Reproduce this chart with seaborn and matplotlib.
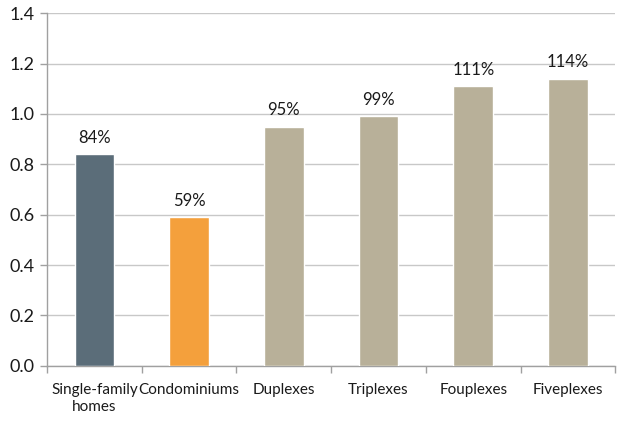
import matplotlib
matplotlib.use("Agg")
import matplotlib.pyplot as plt
import seaborn as sns
import pandas as pd
import numpy as np

categories = ["Single-family\nhomes", "Condominiums", "Duplexes", "Triplexes", "Fouplexes", "Fiveplexes"]
ratios = [0.84, 0.59, 0.95, 0.99, 1.11, 1.14]
labels = ["84%", "59%", "95%", "99%", "111%", "114%"]
colors = ["#5B6D79", "#F4A03C", "#B8B099", "#B8B099", "#B8B099", "#B8B099"]
yticks = [0.0, 0.2, 0.4, 0.6, 0.8, 1.0, 1.2, 1.4]

sns.set_style("white")
plt.rcParams["font.family"] = ["Lato", "DejaVu Sans"]

df = pd.DataFrame({"category": categories, "ratio": ratios})

fig = plt.figure(figsize=(6.19, 4.23), dpi=100)
ax = fig.add_axes([0.076, 0.135, 0.918, 0.834])

sns.barplot(data=df, x="category", y="ratio", hue="category", palette=colors,
            legend=False, width=0.42, saturation=1, ax=ax, zorder=3)

for patch, txt in zip(ax.patches, labels):
    ax.annotate(txt, (patch.get_x() + patch.get_width() / 2, patch.get_height()),
                xytext=(0, 6), textcoords="offset points", ha="center", va="bottom",
                fontsize=12, color="#1a1a1a")

ax.set_ylim(0, 1.4)
ax.set_xlim(-0.5, len(categories) - 0.5)
ax.set_yticks(yticks)
ax.set_yticklabels([f"{v:.1f}" for v in yticks], fontsize=13, color="#1a1a1a")
ax.yaxis.grid(True, color="#C8C8C8", linewidth=1, zorder=0)
ax.set_axisbelow(True)

ax.set_xticks(range(len(categories)))
ax.set_xticklabels(categories, fontsize=11, color="#1a1a1a", linespacing=1.35)
ax.set_xticks(np.arange(-0.5, len(categories)), minor=True)
ax.tick_params(axis="x", which="major", length=0, pad=12, bottom=True)
ax.tick_params(axis="x", which="minor", length=5, color="#A0A0A0", width=1, bottom=True)
ax.tick_params(axis="y", length=5, color="#A0A0A0", width=1, pad=4, left=True)

ax.set_xlabel("")
ax.set_ylabel("")
for side in ["top", "right"]:
    ax.spines[side].set_visible(False)
for side in ["left", "bottom"]:
    ax.spines[side].set_color("#A0A0A0")
    ax.spines[side].set_linewidth(1)

fig.savefig("out.png", dpi=100)
